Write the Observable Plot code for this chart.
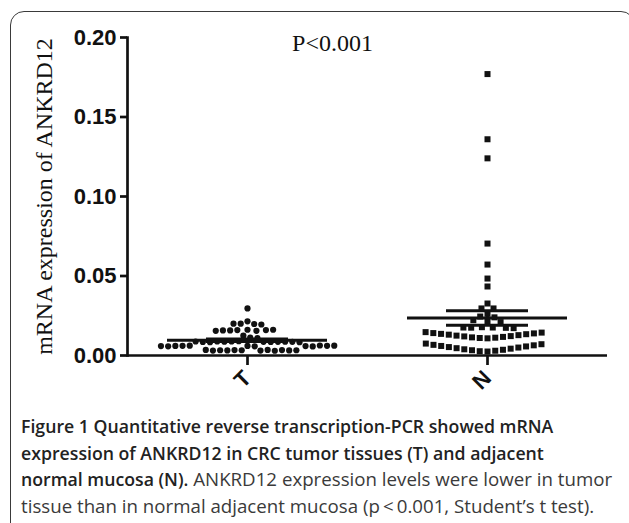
<!DOCTYPE html>
<html><head><meta charset="utf-8">
<script src="https://cdn.jsdelivr.net/npm/d3@7"></script>
<script src="https://cdn.jsdelivr.net/npm/@observablehq/plot@0.6"></script>
<style>
body{margin:0;background:#fff;width:629px;height:523px;overflow:hidden;position:relative}
#frame{position:absolute;left:10px;top:11px;width:625px;height:560px;border:1.5px solid #3a3a3a;border-radius:14px;box-sizing:border-box;pointer-events:none}
#chart{position:absolute;left:0;top:0}
#caption{position:absolute;left:21px;top:413px;font-family:"Open Sans";font-size:18.7px;line-height:26.7px;color:#3a3a3a;white-space:nowrap}
#caption b{color:#222;font-weight:600;font-size:17.7px}
</style></head><body>
<div id="chart"></div>
<div id="caption"></div>
<div id="frame"></div>
<script>
const groups = ["T", "N"];
const tValues = [
  0.0296, 0.0215, 0.0200, 0.0198, 0.0195, 0.0200,
  0.0162, 0.0160, 0.0158, 0.0155, 0.0160, 0.0158, 0.0162, 0.0155,
  0.0125, 0.0112, 0.0110, 0.0090,
  0.0088, 0.0086, 0.0087, 0.0085, 0.0088, 0.0086, 0.0084, 0.0087, 0.0085, 0.0086, 0.0088, 0.0084,
  0.0060, 0.0058, 0.0062, 0.0059, 0.0061, 0.0057, 0.0060, 0.0063, 0.0058, 0.0061, 0.0059, 0.0062,
  0.0033, 0.0031, 0.0034, 0.0032, 0.0035, 0.0030, 0.0033, 0.0034, 0.0031, 0.0032, 0.0035, 0.0033
];
const nValues = [
  0.177, 0.136, 0.124, 0.0704, 0.0572, 0.0434, 0.0484,
  0.0327, 0.0296, 0.0296, 0.0262, 0.0245, 0.0240, 0.0222, 0.0212, 0.0210,
  0.0178, 0.0176, 0.0175, 0.0174, 0.0176, 0.0172,
  0.0108, 0.0110, 0.0112, 0.0114, 0.0117, 0.0120, 0.0122, 0.0125, 0.0128, 0.0131, 0.0134, 0.0136, 0.0139, 0.0141, 0.0144, 0.0147,
  0.0025, 0.0027, 0.0030, 0.0033, 0.0036, 0.0039, 0.0043, 0.0046, 0.0050, 0.0053, 0.0057, 0.0060, 0.0064, 0.0067, 0.0071, 0.0075
];
const yTicks = [0, 0.05, 0.10, 0.15, 0.20];
const yLabel = "mRNA expression of ANKRD12";
const pLabel = "P<0.001";
const captionLines = [
  {bold: "Figure 1 Quantitative reverse transcription-PCR showed mRNA", rest: ""},
  {bold: "expression of ANKRD12 in CRC tumor tissues (T) and adjacent", rest: ""},
  {bold: "normal mucosa (N).", rest: " ANKRD12 expression levels were lower in tumor"},
  {bold: "", rest: "tissue than in normal adjacent mucosa (p\u2009<\u20090.001, Student\u2019s t test)."}
];

const points = [
  ...tValues.map(v => ({group: "T", value: v})),
  ...nValues.map(v => ({group: "N", value: v}))
];
const stats = groups.map(g => {
  const vals = points.filter(d => d.group === g).map(d => d.value);
  const mean = d3.mean(vals);
  const sem = d3.deviation(vals) / Math.sqrt(vals.length);
  return {group: g, mean, lo: mean - sem, hi: mean + sem};
});

const chart = Plot.plot({
  width: 629,
  height: 405,
  marginLeft: 127,
  marginRight: 22,
  marginTop: 37,
  marginBottom: 50,
  style: {background: "transparent", color: "#111", overflow: "visible"},
  fx: {domain: groups, paddingInner: 0, paddingOuter: 0, label: null},
  y: {domain: [0, 0.2], label: null},
  marks: [
    Plot.axisY({ticks: yTicks, tickFormat: d3.format(".2f"), tickSize: 7, tickPadding: 4,
      fontSize: 22, fontWeight: "bold", fontFamily: "Liberation Sans, Arial, sans-serif",
      strokeWidth: 2.7, label: null}),
    Plot.axisFx({anchor: "bottom", tickSize: 10, tickRotate: -45, tickPadding: 9, fontSize: 22, fontWeight: "bold",
      fontFamily: "Liberation Sans, Arial, sans-serif", strokeWidth: 2.7, label: null}),
    Plot.ruleY([0], {strokeWidth: 2.7}),
    Plot.frame({anchor: "left", facetAnchor: "left", strokeWidth: 2.7}),
    Plot.dot(points.filter(d => d.group === "T"),
      Plot.dodgeX("middle", {fx: "group", y: "value", r: 3.1, padding: 1, fill: "#111"})),
    Plot.dot(points.filter(d => d.group === "N"),
      Plot.dodgeX("middle", {fx: "group", y: "value", r: 3.39, padding: 2.9, symbol: "square", fill: "#111"})),
    Plot.ruleY(stats, {fx: "group", y: "mean", insetLeft: 40, insetRight: 40, strokeWidth: 3}),
    Plot.ruleY(stats, {fx: "group", y: "lo", insetLeft: 79, insetRight: 79, strokeWidth: 3}),
    Plot.ruleY(stats, {fx: "group", y: "hi", insetLeft: 79, insetRight: 79, strokeWidth: 3}),
    Plot.ruleX(stats, {fx: "group", x: null, y1: "lo", y2: "hi", strokeWidth: 3}),
    Plot.text([{group: "T", text: pLabel}], {fx: "group", text: "text", frameAnchor: "top", dx: 85, dy: -4,
      lineAnchor: "top", fontFamily: "Liberation Serif, Times New Roman, serif", fontSize: 24, fill: "#111"}),
    Plot.text([{group: "T", text: yLabel}], {fx: "group", text: "text", frameAnchor: "left", textAnchor: "middle",
      rotate: -90, dx: -83, fontFamily: "Liberation Serif, Times New Roman, serif", fontSize: 24, fill: "#111"})
  ]
});
document.getElementById("chart").append(chart);

const cap = d3.select("#caption");
captionLines.forEach((l, i) => {
  const line = cap.append("div");
  if (l.bold) line.append("b").text(l.bold);
  if (l.rest) line.append("span").text(l.rest);
});
</script>
</body></html>
